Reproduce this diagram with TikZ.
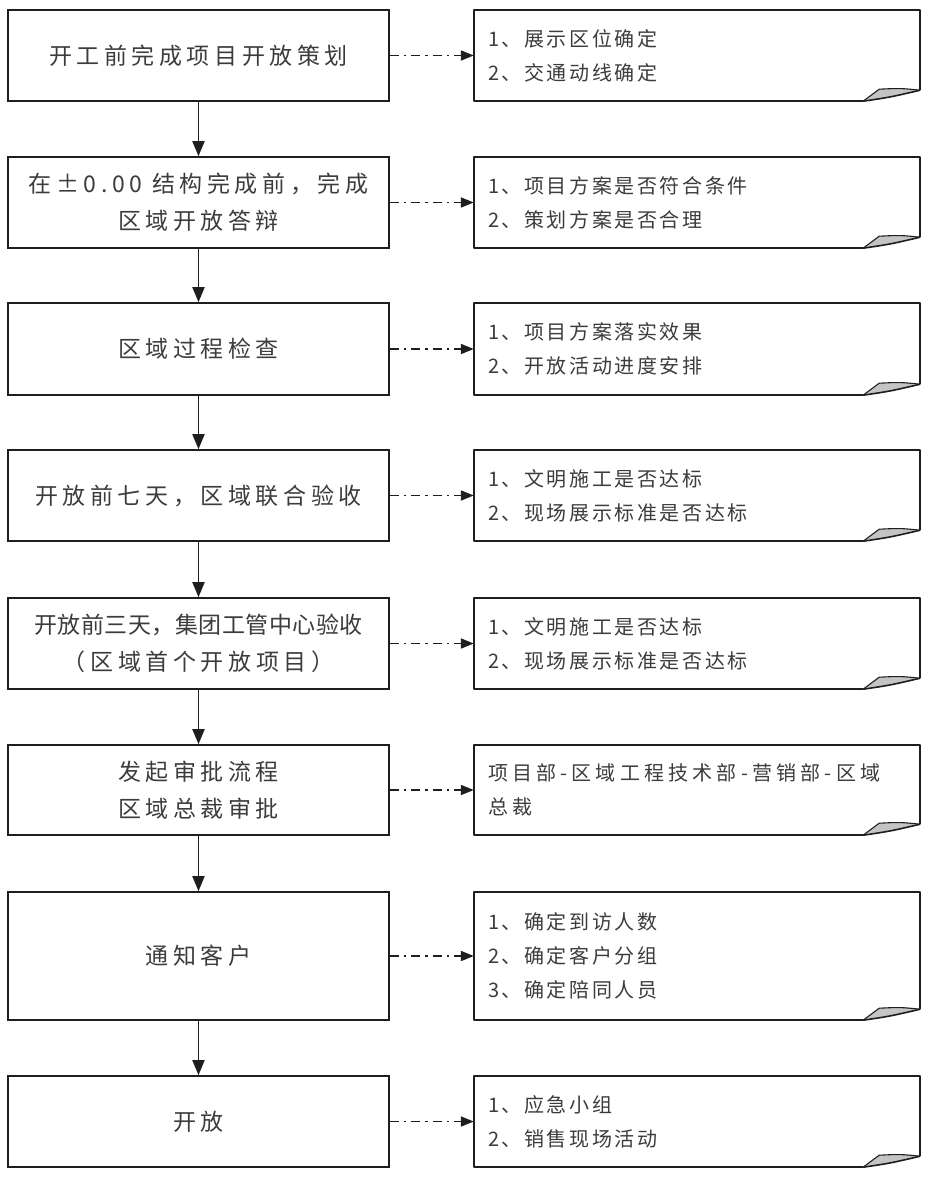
\documentclass[tikz,border=0pt]{standalone}
\usepackage{fontspec}
\setmainfont{Noto Sans CJK SC}
\newfontfamily\boxfont{Noto Sans CJK SC}[LetterSpace=20]
\newfontfamily\boxfontn{Noto Sans CJK SC}[LetterSpace=2]
\newfontfamily\notefont{Noto Sans CJK SC}[LetterSpace=13]
\newfontfamily\notefontw{Noto Sans CJK SC}[LetterSpace=21]
\usetikzlibrary{arrows.meta}
\definecolor{linec}{HTML}{1E1E1E}
\definecolor{textc}{HTML}{3C3C3C}
\definecolor{foldc}{HTML}{C4C4C4}
\tikzset{
  stepbox/.style={draw=linec, line width=1.6pt, minimum width=381pt, inner sep=0pt,
    align=center, text=textc, font={\boxfont\fontsize{23}{37}\selectfont}},
  notebox/.style={inner xsep=14pt, inner ysep=0pt, text width=418pt, minimum height=91pt,
    align=left, text=textc, font={\notefont\fontsize{20}{34}\selectfont}},
  vline/.style={draw=linec, line width=1.8pt, -{Triangle[length=15pt,width=12pt]}},
  dline/.style={draw=linec, line width=1.8pt, dash pattern=on 9pt off 5pt on 2.5pt off 5pt,
    -{Triangle[length=13pt,width=10pt]}},
  noteline/.style={draw=linec, line width=1.6pt, line join=round},
}
\begin{document}
\begin{tikzpicture}[x=1pt,y=-1pt]
\useasboundingbox[fill=white] (0,0) rectangle (928,1178);
% left boxes
\node[stepbox, minimum height=91pt] (b1) at (198.5,55.5) {开工前完成项目开放策划};
\node[stepbox, minimum height=91pt] (b2) at (198.5,202.5) {在±0.00 结构完成前，完成\\区域开放答辩};
\node[stepbox, minimum height=92pt] (b3) at (198.5,349) {区域过程检查};
\node[stepbox, minimum height=91pt] (b4) at (198.5,495.5) {开放前七天，区域联合验收};
\node[stepbox, minimum height=91pt] (b5) at (198.5,643.5) {{\boxfontn 开放前三天，集团工管中心验收}\\（区域首个开放项目）};
\node[stepbox, minimum height=90pt] (b6) at (198.5,790) {发起审批流程\\区域总裁审批};
\node[stepbox, minimum height=128pt] (b7) at (198.5,956) {通知客户};
\node[stepbox, minimum height=91pt] (b8) at (198.5,1121.5) {开放};
% notes
\node[notebox] (n1) at (697,55.5) {1、展示区位确定\\2、交通动线确定};
\node[notebox] (n2) at (697,202.5) {1、项目方案是否符合条件\\2、策划方案是否合理};
\node[notebox, minimum height=92pt] (n3) at (697,349) {1、项目方案落实效果\\2、开放活动进度安排};
\node[notebox] (n4) at (697,495.5) {1、文明施工是否达标\\2、现场展示标准是否达标};
\node[notebox] (n5) at (697,643.5) {1、文明施工是否达标\\2、现场展示标准是否达标};
\node[notebox, minimum height=90pt, font={\notefontw\fontsize{20}{34}\selectfont}] (n6) at (697,790) {项目部-区域工程技术部-营销部-区域\\总裁\\[4pt]};
\node[notebox, minimum height=128pt] (n7) at (697,956) {1、确定到访人数\\2、确定客户分组\\3、确定陪同人员};
\node[notebox] (n8) at (697,1121.5) {1、应急小组\\2、销售现场活动};
% note outlines with folded corner
\foreach \n in {n1,n2,n3,n4,n5,n6,n7,n8} {
  \coordinate (A) at ([shift={(-57pt,0pt)}]\n.south east);
  \coordinate (B) at ([shift={(0pt,11pt)}]\n.south east);
  \coordinate (C) at ([shift={(-41pt,12pt)}]\n.south east);
  \fill[foldc] (A) .. controls ([shift={(-30pt,4pt)}]\n.south east) .. (B)
     .. controls ([shift={(-20pt,13pt)}]\n.south east) .. (C) -- cycle;
  \draw[noteline] (A) -- (\n.south west) -- (\n.north west) -- (\n.north east) -- (B);
  \draw[noteline] (A) .. controls ([shift={(-30pt,4pt)}]\n.south east) .. (B);
  \draw[draw=linec, line width=1.1pt, line join=round] (B) .. controls ([shift={(-20pt,13pt)}]\n.south east) .. (C) -- (A);
}
% vertical arrows
\foreach \a/\b in {b1/b2,b2/b3,b3/b4,b4/b5,b5/b6,b6/b7,b7/b8}
  \draw[vline] (\a) -- (\b);
% dash-dot arrows
\foreach \i in {1,...,8}
  \draw[dline] (b\i) -- (n\i);
\end{tikzpicture}
\end{document}
